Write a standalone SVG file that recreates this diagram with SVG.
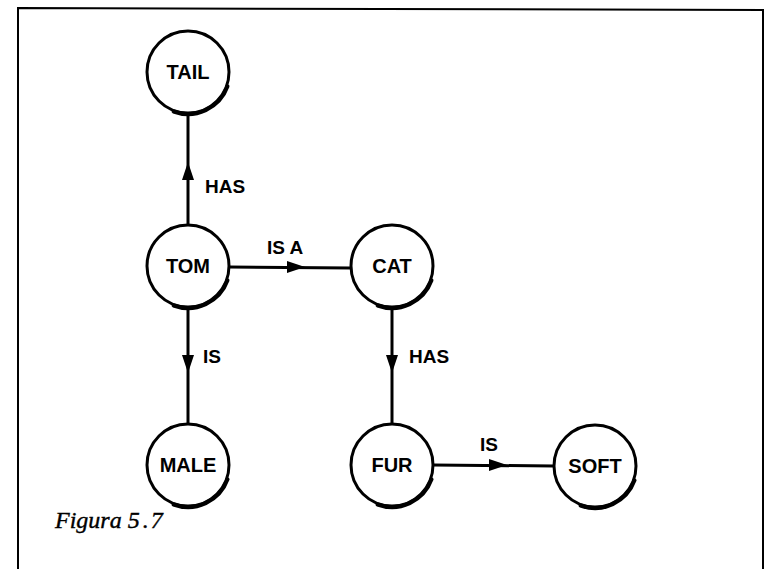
<svg xmlns="http://www.w3.org/2000/svg" width="769" height="569" viewBox="0 0 769 569">
<style>
.frame{fill:none;stroke:#000;stroke-width:2}
.node circle{fill:#fff;stroke:#000;stroke-width:3}
.node .sh{fill:none;stroke:#000;stroke-width:4;stroke-linecap:round}
.node text{font-family:"Liberation Sans",Arial,sans-serif;font-size:20px;font-weight:bold;text-anchor:middle;fill:#000}
.edge line{stroke:#000;stroke-width:3}
.edge polygon{fill:#000}
.lbl{font-family:"Liberation Sans",Arial,sans-serif;font-size:19px;font-weight:bold;fill:#000}
.cap{font-family:"Liberation Serif","Times New Roman",serif;font-style:italic;font-size:24px;fill:#000;stroke:#000;stroke-width:0.4}
</style>
<rect width="769" height="569" fill="#fff"/>
<path class="frame" d="M18,569 L18,8 L763,10 L763,569"/>
<g id="connectors" class="edge">
  <line x1="188" y1="225" x2="188" y2="113"/>
  <polygon points="188,162 182,180 194,180"/>
  <line x1="229" y1="267" x2="351" y2="268"/>
  <polygon points="305,267 287,261 287,273"/>
  <line x1="188" y1="307" x2="188" y2="424"/>
  <polygon points="188,373 182,355 194,355"/>
  <line x1="392" y1="307" x2="392" y2="424"/>
  <polygon points="392,373 386,355 398,355"/>
  <line x1="433" y1="465" x2="554" y2="466"/>
  <polygon points="507,465 489,459 489,471"/>
</g>
<g id="edge-labels" class="lbl">
  <text x="205" y="193">HAS</text>
  <text x="267" y="254">IS A</text>
  <text x="203" y="363">IS</text>
  <text x="409" y="363">HAS</text>
  <text x="480" y="451">IS</text>
</g>
<g id="node-tail" class="node">
  <circle cx="188" cy="72" r="41"/>
  <path class="sh" d="M227.5,86.4 A42,42 0 0 1 173.6,111.5"/>
  <text x="188" y="79">TAIL</text>
</g>
<g id="node-tom" class="node">
  <circle cx="188" cy="266" r="41"/>
  <path class="sh" d="M227.5,280.4 A42,42 0 0 1 173.6,305.5"/>
  <text x="188" y="273">TOM</text>
</g>
<g id="node-cat" class="node">
  <circle cx="392" cy="266" r="41"/>
  <path class="sh" d="M431.5,280.4 A42,42 0 0 1 377.6,305.5"/>
  <text x="392" y="273">CAT</text>
</g>
<g id="node-male" class="node">
  <circle cx="188" cy="465" r="41"/>
  <path class="sh" d="M227.5,479.4 A42,42 0 0 1 173.6,504.5"/>
  <text x="188" y="472">MALE</text>
</g>
<g id="node-fur" class="node">
  <circle cx="392" cy="465" r="41"/>
  <path class="sh" d="M431.5,479.4 A42,42 0 0 1 377.6,504.5"/>
  <text x="392" y="472">FUR</text>
</g>
<g id="node-soft" class="node">
  <circle cx="595" cy="466" r="41"/>
  <path class="sh" d="M634.5,480.4 A42,42 0 0 1 580.6,505.5"/>
  <text x="595" y="473">SOFT</text>
</g>
<text class="cap" x="55" y="528">Figura 5<tspan dx="3">.</tspan><tspan dx="2">7</tspan></text>
</svg>
